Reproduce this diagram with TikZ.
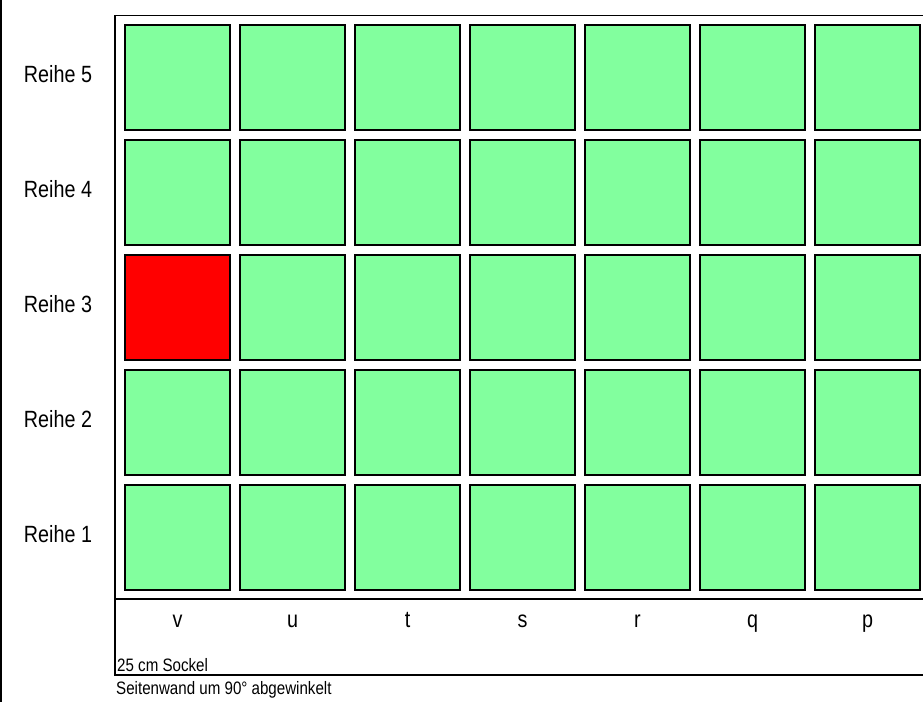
\documentclass[tikz,border=0pt]{standalone}
\usepackage{fontspec}
\setmainfont{Liberation Sans}[FakeStretch=0.84]
\definecolor{cellgreen}{RGB}{130,255,158}
\definecolor{cellred}{RGB}{255,0,0}
\tikzset{
  cell/.style={draw=black, line width=2pt, fill=cellgreen, minimum width=105pt, minimum height=105pt, inner sep=0pt, outer sep=0pt, anchor=north west},
  redcell/.style={cell, fill=cellred},
  frameline/.style={draw=black, line width=1.8pt},
  rowlabel/.style={font=\fontsize{23.5pt}{26pt}\selectfont, anchor=base, inner sep=0pt},
  collabel/.style={font=\fontsize{23.5pt}{26pt}\selectfont, anchor=base, inner sep=0pt},
  smalltext/.style={font=\fontsize{18pt}{20pt}\selectfont, anchor=base west, inner sep=0pt}
}
\begin{document}
\begin{tikzpicture}[x=1pt, y=-1pt]
\useasboundingbox (0,0) rectangle (923,702);
% frame
\coordinate (ftl) at (115,15.5);
\coordinate (ftr) at (925,15.5);
\coordinate (fbl) at (115,675);
\coordinate (fbr) at (925,675);
\coordinate (fml) at (115,599);
\coordinate (fmr) at (925,599);
\draw[frameline] (ftr) -- (ftl) -- (fbl) -- (fbr);
\draw[frameline] (fml) -- (fmr);
% left edge line
\coordinate (lt) at (1,0);
\coordinate (lb) at (1,702);
\draw[black, line width=1.5pt] (lt) -- (lb);
% cells
\foreach \r in {1,...,5} {
  \foreach \c in {1,...,7} {
    \pgfmathsetmacro{\xx}{125+(\c-1)*115}
    \pgfmathsetmacro{\yy}{25+(5-\r)*115}
    \node[cell] (cell-\r-\c) at (\xx,\yy) {};
  }
}
\node[redcell] (cell-3-1) at (125,255) {};
% row labels
\foreach \r in {1,...,5} {
  \pgfmathsetmacro{\yy}{82+(5-\r)*115}
  \node[rowlabel] (row-\r) at (58,\yy) {Reihe \r};
}
% column labels
\foreach \l [count=\c] in {v,u,t,s,r,q,p} {
  \pgfmathsetmacro{\xx}{177.5+(\c-1)*115}
  \node[collabel] (col-\c) at (\xx,627) {\l};
}
\node[smalltext] (sockel) at (117,671.5) {25 cm Sockel};
\node[smalltext] (seite) at (116,694) {Seitenwand um 90° abgewinkelt};
\end{tikzpicture}
\end{document}
